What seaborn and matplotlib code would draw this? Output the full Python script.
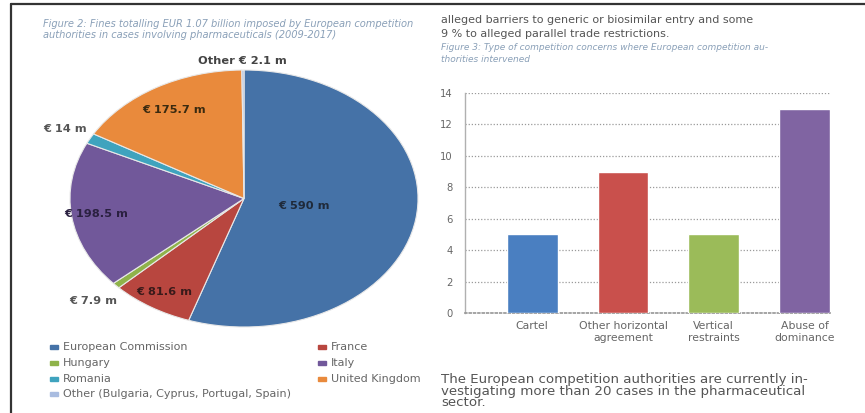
import numpy as np
import pandas as pd
import matplotlib
matplotlib.use("Agg")
import matplotlib.pyplot as plt
from matplotlib.lines import Line2D
import seaborn as sns

# ---------------- data ----------------
pie_labels = ["European Commission", "France", "Hungary", "Italy",
              "Romania", "United Kingdom", "Other (Bulgaria, Cyprus, Portugal, Spain)"]
pie_values = [590, 81.6, 7.9, 198.5, 14, 175.7, 2.1]
pie_texts = ["€ 590 m", "€ 81.6 m", "€ 7.9 m", "€ 198.5 m", "€ 14 m", "€ 175.7 m", "Other € 2.1 m"]

bar_categories = ["Cartel", "Other horizontal\nagreement", "Vertical\nrestraints", "Abuse of\ndominance"]
bar_values = [5, 9, 5, 13]
y_ticks = [0, 2, 4, 6, 8, 10, 12, 14]

pie_colors = ["#4572A7", "#B8463F", "#8FB34A", "#71589A", "#3FA3BE", "#E98A3C", "#A9BCE0"]
bar_colors = ["#4A7FC1", "#C9504C", "#9BBB59", "#8064A2"]

W, H = 865, 413
sns.set_theme(style="white")
plt.rcParams['font.family'] = ['DejaVu Sans']
fig = plt.figure(figsize=(W / 100, H / 100), dpi=100)
fig.patch.set_facecolor("white")

def fx(x): return x / W
def fy(y): return 1 - y / H

# frame lines
fig.add_artist(Line2D([fx(11), fx(865)], [fy(4), fy(4)], color="#333333", lw=1.6))
fig.add_artist(Line2D([fx(11), fx(11)], [fy(4), fy(413)], color="#333333", lw=1.6))

# ---------------- left: pie ----------------
axp = fig.add_axes([fx(70), fy(327), (418 - 70) / W, (327 - 70) / H])
wedges, _ = axp.pie(pie_values, startangle=90, counterclock=False, colors=pie_colors,
                    radius=1, wedgeprops=dict(linewidth=0.8, edgecolor="#e8e8e8"))
axp.set_aspect("auto")
axp.set_xlim(-1, 1)
axp.set_ylim(-1, 1)
axp.axis("off")

label_r = [0.35, 0.86, 1.18, 0.86, 1.16, 0.80, 1.07]
label_col = ["#1f2a3a", "#3a1a1a", "#555555", "#2a2040", "#555555", "#3a2a10", "#444444"]
for w, t, r, c in zip(wedges, pie_texts, label_r, label_col):
    ang = np.deg2rad((w.theta1 + w.theta2) / 2)
    x, y = r * np.cos(ang), r * np.sin(ang)
    axp.text(x, y, t, ha="center", va="center", fontsize=8.2, color=c, fontweight="bold",
             clip_on=False)

# caption figure 2
capcol = "#8aa0b8"
fig.text(fx(43), fy(24), "Figure 2: Fines totalling EUR 1.07 billion imposed by European competition",
         fontsize=7.1, style="italic", color=capcol, va="center")
fig.text(fx(43), fy(35), "authorities in cases involving pharmaceuticals (2009-2017)",
         fontsize=7.1, style="italic", color=capcol, va="center")

# legend
leg_pos = [(50, 347), (318, 347), (50, 363), (318, 363), (50, 379), (318, 379), (50, 394)]
for (lx, ly), i in zip(leg_pos, range(len(pie_labels))):
    fig.patches.append(plt.Rectangle((fx(lx), fy(ly) - 2 / H), 8 / W, 4 / H,
                                     transform=fig.transFigure, color=pie_colors[i]))
    fig.text(fx(lx + 13), fy(ly), pie_labels[i], fontsize=8.0, color="#666666", va="center")

# ---------------- right: bars ----------------
axb = fig.add_axes([fx(465), fy(313), (830 - 465) / W, (313 - 93) / H])
df = pd.DataFrame({"cat": bar_categories, "val": bar_values})
sns.barplot(data=df, x="cat", y="val", hue="cat", palette=bar_colors, width=0.56,
            saturation=1, legend=False, ax=axb, zorder=3)
axb.set_ylim(0, 14)
axb.set_yticks(y_ticks)
axb.set_xlim(-0.74, 3.28)
axb.set_xlabel("")
axb.set_ylabel("")
axb.yaxis.grid(True, linestyle=(0, (1, 1.5)), color="#9a9a9a", lw=0.9, zorder=0)
axb.set_axisbelow(True)
for s in ["top", "right"]:
    axb.spines[s].set_visible(False)
axb.spines["bottom"].set_color("#9a9a9a")
axb.spines["bottom"].set_linestyle((0, (1, 1.5)))
axb.spines["left"].set_color("#b0b0b0")
axb.spines["left"].set_linewidth(1.0)
axb.tick_params(axis="y", labelsize=7.2, labelcolor="#666666", length=0, pad=9)
axb.tick_params(axis="x", labelsize=7.8, labelcolor="#666666", length=0, pad=6)
axb.set_facecolor("white")

# body text right
bodycol = "#555555"
fig.text(fx(441), fy(20), "alleged barriers to generic or biosimilar entry and some",
         fontsize=8.0, color=bodycol, va="center")
fig.text(fx(441), fy(34), "9 % to alleged parallel trade restrictions.",
         fontsize=8.0, color=bodycol, va="center")
fig.text(fx(441), fy(48), "Figure 3: Type of competition concerns where European competition au-",
         fontsize=6.5, style="italic", color=capcol, va="center")
fig.text(fx(441), fy(60), "thorities intervened",
         fontsize=6.5, style="italic", color=capcol, va="center")

fig.text(fx(441), fy(379), "The European competition authorities are currently in-",
         fontsize=9.6, color=bodycol, va="center")
fig.text(fx(441), fy(391), "vestigating more than 20 cases in the pharmaceutical",
         fontsize=9.6, color=bodycol, va="center")
fig.text(fx(441), fy(403), "sector.",
         fontsize=9.6, color=bodycol, va="center")

fig.savefig("out.png", dpi=100, facecolor="white")
